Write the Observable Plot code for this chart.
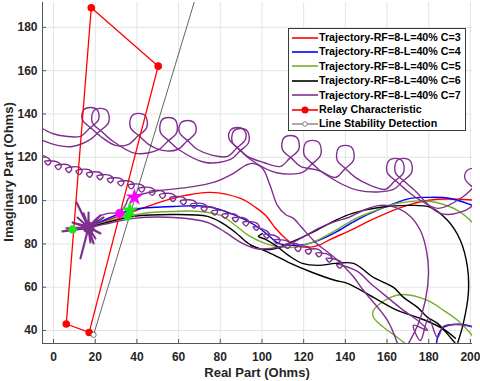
<!DOCTYPE html>
<html><head><meta charset="utf-8">
<script src="https://cdn.jsdelivr.net/npm/d3@7"></script>
<script src="https://cdn.jsdelivr.net/npm/@observablehq/plot@0.6"></script>
<style>
body{margin:0;background:#fff;font-family:"Liberation Sans",Arial,sans-serif;}
#wrap{position:relative;width:480px;height:381px;overflow:hidden}
.lab{position:absolute;font-weight:bold;font-size:13px;color:#262626;white-space:nowrap;line-height:1}
#legend{position:absolute;left:288px;top:28px;width:178px;height:103px;background:#fff;border:1px solid #3a3a3a;box-sizing:border-box;}
#legend .t{position:absolute;left:30px;font-size:10.7px;font-weight:bold;color:#000;white-space:nowrap;line-height:1}
#legend svg{position:absolute;left:2px}
</style></head><body><div id="wrap"></div>
<script>
const xTicks = [0,20,40,60,80,100,120,140,160,180,200];
const yTicks = [40,60,80,100,120,140,160,180];
const xDomain = [-5.3, 201];
const yDomain = [34, 191.5];

const seriesNames = ["Trajectory-RF=8-L=40% C=3","Trajectory-RF=8-L=40% C=4","Trajectory-RF=8-L=40% C=5","Trajectory-RF=8-L=40% C=6","Trajectory-RF=8-L=40% C=7","Relay Characteristic","Line Stability Detection"];
const seriesColors = ["#ff0000","#0000ff","#77ac30","#000000","#7e2f8e","#ff0000","#8c8c8c"];

// C=3
const c3 = [[[8.2,86.7],[16.8,87.6],[24.0,90.4],[36.9,94.5],[50.8,99.2],[63.3,102.4],[75.3,103.8],[89.7,101.0],[96.9,96.9],[101.7,93.2],[106.5,87.2],[111.3,82.5],[116.1,79.3],[121.8,78.4],[127.1,79.3],[132.9,82.1],[143.4,86.7],[152.0,90.9],[169.8,97.8],[184.2,100.6],[203.4,100.1]]];
// C=4
const c4 = [
 [[5.3,85.8],[9.1,86.7],[16.8,87.6],[24.0,90.9],[38.4,95.9],[57.6,97.3],[73.9,97.3],[87.3,93.2],[96.9,88.5],[103.1,83.9],[107.9,80.2],[114.6,79.3],[120.9,79.8],[127.1,81.6],[135.3,85.3],[143.4,89.9],[152.0,94.1],[171.2,101.0],[179.4,101.5],[190.4,101.0],[203.4,96.9]],
 [[183.7,34.0],[184.7,38.2],[187.1,41.5],[191.8,42.8],[196.6,42.8],[203.4,41.0]]
];
// C=5
const c5 = [
 [[8.2,86.7],[16.8,87.6],[24.0,89.9],[35.5,92.7],[46.5,94.5],[57.6,95.0],[70.5,95.0],[80.1,93.2],[87.3,88.5],[93.5,83.9],[100.2,80.7],[106.5,78.9],[114.6,78.4],[124.2,80.7],[135.3,86.2],[143.4,90.9],[152.0,94.5],[165.0,98.7],[180.8,99.6],[193.8,95.5],[203.4,87.6]],
 [[169.8,33.1],[165.0,36.8],[158.3,41.5],[153.5,46.1],[153.5,49.3],[161.6,55.3],[167.9,56.6],[179.4,53.9],[187.1,49.3],[193.8,44.7],[200,38.7],[202.4,35.4],[203.4,34.0]]
];
// C=6
const c6 = [
 [[8.2,86.7],[16.8,87.6],[24.0,89.5],[38.4,92.7],[57.6,93.6],[73.9,92.7],[81.1,89.5],[87.3,85.3],[93.5,80.2],[100.2,77.5],[106.5,77.9],[112.7,80.2],[124.2,85.3],[135.3,90.9],[143.4,94.1],[156.8,96.9],[171.2,97.8],[180.8,96.9],[189.0,90.9],[195.2,81.6],[198.6,69.1],[199.0,57.1],[196.6,43.3],[193.8,34.0]],
 [[94.5,79.3],[103.1,76.1],[112.7,71.5],[124.2,66.8],[135.3,63.1],[141.0,61.8],[153.5,55.3],[165.0,49.3],[174.6,46.1],[180.8,43.7],[188.0,40.1],[192.8,36.4]],
 [[100.2,84.8],[98.3,83.5],[101.7,82.1],[106.5,79.3],[112.7,74.7],[119.4,71.0],[127.1,70.1],[135.3,71.0],[143.9,71.0],[153.5,64.5],[163.1,59.9],[167.9,55.3],[174.6,50.7],[179.4,46.1],[184.2,43.3],[190.4,36.8],[192.8,34.0]]
];
// C=7
const c7 = [
 [[16.8,87.6],[24.0,89.0],[38.4,91.8],[57.6,92.2],[73.9,89.9],[82.5,85.3],[89.7,80.7],[96.9,77.9],[104.1,77.9],[111.3,79.3],[118.5,82.5],[127.1,87.2],[135.3,90.4],[141.5,92.2],[149.6,95.9],[156.8,97.8],[164.0,96.9],[171.2,92.7],[176.0,86.2],[178.9,77.0],[179.9,66.4],[178.4,53.9],[175.1,43.3],[169.8,33.1]],
 [[16.8,87.6],[21.1,92.2],[25.9,94.1],[31.2,94.5],[34.5,97.8],[35.9,101.0],[39.3,102.4],[46.5,103.8],[51.3,104.7],[64.3,106.1],[76.7,108.4],[86.3,112.6],[92.1,116.3],[95.4,117.2],[100.2,114.9],[103.9,107.0],[107.4,97.8],[111.3,93.6],[115.1,91.8],[119.4,87.2],[125.7,80.7],[135.3,73.3],[143.4,65.4],[148.7,58.5],[160.2,44.7],[165.0,34.0]],
 [[-5.3,120.9],
  [-3,119.9],[-1.3,118.0],[-2.7,116.4],[-4.2,118.1],
  [2,117.8],[3.7,115.9],[2.3,114.3],[0.8,116.0],
  [7,116.5],[8.7,114.6],[7.3,113.0],[5.8,114.7],
  [12,115.5],[13.7,113.6],[12.3,112.0],[10.8,113.7],
  [17,114.3],[18.7,112.4],[17.3,110.8],[15.8,112.5],
  [22,113.1],[23.7,111.2],[22.3,109.6],[20.8,111.3],
  [27,111.7],[28.7,109.8],[27.3,108.2],[25.8,109.9],
  [32,110.3],[33.7,108.4],[32.3,106.8],[30.8,108.5],
  [37,108.9],[38.7,107.0],[37.3,105.4],[35.8,107.1],
  [42,107.4],[43.7,105.5],[42.3,103.9],[40.8,105.6],
  [47,105.9],[48.7,104.0],[47.3,102.4],[45.8,104.1],
  [52,104.5],[53.7,102.6],[52.3,101.0],[50.8,102.7],
  [57,103.1],[58.7,101.2],[57.3,99.6],[55.8,101.3],
  [62,101.6],[63.7,99.7],[62.3,98.1],[60.8,99.8],
  [67,100.1],[68.7,98.2],[67.3,96.6],[65.8,98.3],
  [72,98.5],[73.7,96.6],[72.3,95.0],[70.8,96.7],
  [77,96.8],[78.7,94.9],[77.3,93.3],[75.8,95.0],
  [82,95.3],[83.7,93.4],[82.3,91.8],[80.8,93.5],
  [87,93.7],[88.7,91.8],[87.3,90.2],[85.8,91.9],
  [92,91.8],[93.7,89.9],[92.3,88.3],[90.8,90.0],
  [97,89.8],[98.7,87.9],[97.3,86.3],[95.8,88.0],
  [102,86.1],[103.7,84.2],[102.3,82.6],[100.8,84.3],
  [107,83.5],[108.7,81.6],[107.3,80.0],[105.8,81.7],
  [112,81.4],[113.7,79.5],[112.3,77.9],[110.8,79.6],
  [117,80.0],[118.7,78.1],[117.3,76.5],[115.8,78.2],
  [122,78.7],[123.7,76.8],[122.3,75.2],[120.8,76.9],
  [127,77.5],[128.7,75.6],[127.3,74.0],[125.8,75.7],
  [132,75.1],[133.7,73.2],[132.3,71.6],[130.8,73.3],
  [137,72.3],[138.7,70.4],[137.3,68.8],[135.8,70.5],
  [145.8,67.3],[152.0,61.8],[160.2,55.3],[167.9,49.3],[174.6,44.7],[179.4,40.1],[172.7,42.4],[176.0,35.4],[179.9,45.6],[184.2,36.8],[187.1,41.9],[192.8,42.8],[200,41.9],[203.8,40.1]],
 [[-5.3,133.3],[-0.5,131.0],[5.8,129.7],
  [12.9,129.7],[17.2,133.3],[21.6,137.5],[21.1,141.7],[17.7,143.0],[14.3,141.7],[13.8,137.5],[18.2,133.3],[22.5,129.7],
  [29.7,125.5],
  [36.0,126.0],[40.3,129.7],[44.7,133.8],[44.2,138.9],[40.8,140.3],[37.4,138.9],[36.9,133.8],[41.3,129.7],[45.6,126.0],
  [52.3,123.2],
  [59.5,123.6],[63.8,127.3],[68.2,131.5],[67.7,135.7],[64.3,137.0],[60.9,135.7],[60.4,131.5],[64.8,127.3],[69.1,123.6],
  [76.3,120.9],
  [83.4,120.4],[87.7,124.1],[92.1,128.3],[91.6,132.4],[88.2,133.8],[84.8,132.4],[84.3,128.3],[88.7,124.1],[93.0,120.4],
  [100.7,117.6],
  [108.9,115.8],[113.2,119.5],[117.6,123.6],[117.1,128.7],[113.7,130.1],[110.3,128.7],[109.8,123.6],[114.2,119.5],[118.5,115.8],
  [127.1,114.0],
  [135.2,110.7],[139.5,114.4],[143.9,118.6],[143.4,124.1],[140.0,125.5],[136.6,124.1],[136.1,118.6],[140.5,114.4],[144.8,110.7],
  [152.0,107.0],
  [159.2,105.2],[163.5,108.9],[167.9,113.0],[167.4,118.1],[164.0,119.5],[160.6,118.1],[160.1,113.0],[164.5,108.9],[168.8,105.2],
  [176.0,100.1],[184.7,96.4],
  [196.6,101.9],[200.9,105.6],[205.3,109.8],[204.8,113.5],[201.4,114.9],[198.0,113.5],[197.5,109.8],[201.9,105.6],[206.2,101.9]],
 [[-5.3,127.8],[1.9,125.5],[9.1,125.0],
  [17.7,128.3],[22.0,132.0],[26.4,136.1],[25.9,141.2],[22.5,142.6],[19.1,141.2],[18.6,136.1],[23.0,132.0],[27.3,128.3],
  [39.3,121.8],
  [50.4,123.6],[54.7,127.3],[59.1,131.5],[58.6,137.0],[55.2,138.4],[51.8,137.0],[51.3,131.5],[55.7,127.3],[60.0,123.6],
  [72.9,117.6],
  [84.9,119.0],[89.2,122.7],[93.6,126.9],[93.1,132.0],[89.7,133.3],[86.3,132.0],[85.8,126.9],[90.2,122.7],[94.5,119.0],
  [106.5,113.0],
  [119.4,113.0],[123.7,116.7],[128.1,120.9],[127.6,126.4],[124.2,127.8],[120.8,126.4],[120.3,120.9],[124.7,116.7],[129.0,113.0],
  [146.3,104.7],
  [163.1,105.2],[167.4,108.9],[171.8,113.0],[171.3,118.1],[167.9,119.5],[164.5,118.1],[164.0,113.0],[168.3,108.9],[172.7,105.2],
  [185.6,94.1],[197.6,95.5],[203.8,100.1]]
];
// C=7 oscillation burst near the start
const c7Burst = [[16.8,87.6],[11.0,99.2],[16.9,87.8],[12.9,73.3],[16.7,87.4],[4.3,85.8],[16.8,87.6],[22.5,93.2],[17.0,87.5],[17.7,80.7],[16.6,87.7],[14.4,94.1],[16.8,87.6],[22.5,84.8],[16.9,87.9],[9.1,89.9],[16.7,87.4],[24.0,92.2],[16.8,87.6],[19.2,80.2],[16.6,87.8],[21.1,89.9],[16.9,87.5],[11.5,92.2],[16.8,87.6],[16.8,94.5],[16.7,87.7],[6.2,87.2],[16.8,87.6],[20.1,82.5],[16.8,87.6]];

const relay = [[6.1,43.0],[17.1,39.1],[50.2,162.1],[18.1,189.1],[6.1,43.0]];
const stability = [[19.2,38.0],[67.6,192.0]];
const tripMagenta = [[31.7,94.1]];
const tripMagentaStar = [[38.8,101.5]];
const tripGreen = [[9.1,86.7],[35.5,92.7]];
const tripGreenStar = [[36.5,95.5]];

const rows = (segs, key) => segs.flatMap((s,i)=>s.map(([x,y])=>({x,y,seg:key+"-"+i})));
const pts = a => a.map(([x,y])=>({x,y}));
const traj = (segs,i,key,w=1.4) => Plot.line(rows(segs,key),{x:"x",y:"y",z:"seg",stroke:seriesColors[i],strokeWidth:w,curve:"catmull-rom",clip:true});

const chart = Plot.plot({
  width:480, height:381,
  marginLeft:42, marginRight:8, marginTop:2, marginBottom:38,
  style:{fontFamily:"'Liberation Sans',Arial,sans-serif",fontSize:"12px",fontWeight:"bold",color:"#262626",background:"#fff"},
  x:{domain:xDomain},
  y:{domain:yDomain},
  marks:[
    Plot.gridX(xTicks,{stroke:"#e4e4e4",strokeOpacity:1}),
    Plot.gridY(yTicks,{stroke:"#e4e4e4",strokeOpacity:1}),
    traj(c3,0,"c3"),
    traj(c4,1,"c4"),
    traj(c5,2,"c5"),
    traj(c6,3,"c6"),
    traj(c7,4,"c7"),
    Plot.line(pts(c7Burst),{x:"x",y:"y",stroke:seriesColors[4],strokeWidth:2.1,clip:true}),
    Plot.dot(pts(c7Burst.slice(0,1)),{x:"x",y:"y",r:6,fill:seriesColors[4]}),
    Plot.line(pts(relay),{x:"x",y:"y",stroke:seriesColors[5],strokeWidth:1.3}),
    Plot.dot(pts(relay.slice(0,4)),{x:"x",y:"y",r:3.8,fill:seriesColors[5]}),
    Plot.line(pts(stability),{x:"x",y:"y",stroke:"#3c3c3c",strokeWidth:0.8,clip:true}),
    Plot.dot(pts(stability.slice(0,1)),{x:"x",y:"y",r:2.6,stroke:"#555",fill:"#fff",strokeWidth:0.8}),
    Plot.dot(pts(tripMagenta),{x:"x",y:"y",r:4.5,fill:"#ff00ff"}),
    Plot.dot(pts(tripMagentaStar),{x:"x",y:"y",r:5.5,symbol:"star",fill:"#ff00ff"}),
    Plot.dot(pts(tripGreen),{x:"x",y:"y",r:4.2,fill:"#1be51b"}),
    Plot.dot(pts(tripGreenStar),{x:"x",y:"y",r:5.5,symbol:"star",fill:"#1be51b"}),
    Plot.ruleX([xDomain[0]],{stroke:"#555"}),
    Plot.ruleY([yDomain[0]],{stroke:"#555"}),
    Plot.axisX(xTicks,{tickSize:-4,tickPadding:13,stroke:"#555",fill:"#262626",label:null}),
    Plot.axisY(yTicks,{tickSize:-4,tickPadding:9,stroke:"#555",fill:"#262626",label:null})
  ]
});
const wrap = document.getElementById("wrap");
chart.style.position="absolute"; chart.style.left="0"; chart.style.top="0";
wrap.appendChild(chart);

const xl = document.createElement("div");
xl.className="lab"; xl.textContent="Real Part (Ohms)";
xl.style.left="257px"; xl.style.top="366px"; xl.style.transform="translateX(-50%)";
wrap.appendChild(xl);
const yl = document.createElement("div");
yl.className="lab"; yl.textContent="Imaginary Part (Ohms)";
yl.style.left="8px"; yl.style.top="172px"; yl.style.transform="translate(-50%,-50%) rotate(-90deg)";
wrap.appendChild(yl);

const lg = document.createElement("div"); lg.id="legend";
seriesNames.forEach((n,i)=>{
  const cy = 8.5 + 14.4*i;
  const s = document.createElementNS("http://www.w3.org/2000/svg","svg");
  s.setAttribute("width","28"); s.setAttribute("height","8");
  s.style.top=(cy-4)+"px";
  let inner = `<line x1="1" y1="4" x2="27" y2="4" stroke="${seriesColors[i]}" stroke-width="${i===6?1.5:1.6}"/>`;
  if(i===5) inner += `<circle cx="14" cy="4" r="3.5" fill="${seriesColors[i]}"/>`;
  if(i===6) inner += `<circle cx="14" cy="4" r="2.3" fill="#fff" stroke="#666" stroke-width="0.8"/>`;
  s.innerHTML = inner;
  lg.appendChild(s);
  const t = document.createElement("div"); t.className="t"; t.textContent=n;
  t.style.top=(cy-5.5)+"px";
  lg.appendChild(t);
});
wrap.appendChild(lg);
</script></body></html>
